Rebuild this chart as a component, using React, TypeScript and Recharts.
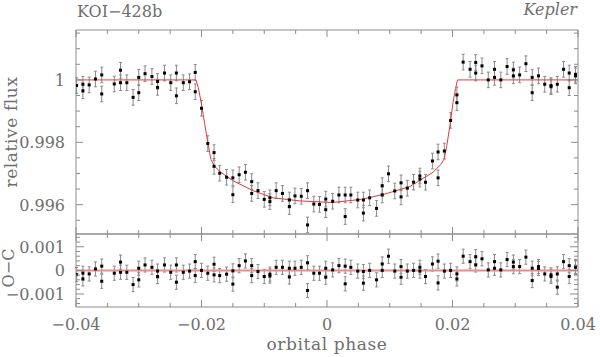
import React from 'react';
import { ScatterChart, Scatter, XAxis, YAxis, ErrorBar } from 'recharts';

// ---- data ----
const phase = [
  -0.0399, -0.0389, -0.0379, -0.0369, -0.0359,
  -0.0339, -0.0329, -0.0319, -0.0309, -0.03, -0.029, -0.0279, -0.027, -0.0259, -0.0249, -0.024, -0.0229, -0.0219, -0.021, -0.02,
  -0.019, -0.018, -0.0171, -0.016, -0.015, -0.014, -0.013, -0.012, -0.011, -0.01, -0.0091, -0.0081, -0.0071, -0.006, -0.0051, -0.0041, -0.0031, -0.0021, -0.0012, -0.0002,
  0.0009, 0.0019, 0.0029, 0.0038, 0.0049, 0.0058, 0.0068, 0.0079, 0.0088, 0.0098, 0.0108, 0.0118, 0.0128, 0.0138, 0.0148, 0.0157, 0.0168, 0.0177, 0.0187, 0.0197, 0.0207,
  0.0217, 0.0228, 0.0237, 0.0247, 0.0257, 0.0267, 0.0277, 0.0287, 0.0297, 0.0307, 0.0317, 0.0327, 0.0337, 0.0347, 0.0357, 0.0367, 0.0377, 0.0386, 0.0396,
];

const flux1 = [
  0.99982, 0.99986, 0.99984, 1.00003, 1.00016,
  0.99987, 1.00031, 0.99991, 0.99944, 1.00008, 1.0002, 1.00011, 0.99995, 1.00022, 0.99991, 1.00022, 0.99991, 0.99994, 1.00024, 0.99909,
  0.99796, 0.99767, 0.99701, 0.99688, 0.99686, 0.99696, 0.99704, 0.99674, 0.99645, 0.99617, 0.99622, 0.99645, 0.99636, 0.99615, 0.99628, 0.99627, 0.99645, 0.99602, 0.99601, 0.99618,
  0.99611, 0.99631, 0.99631, 0.99631, 0.99615, 0.99615, 0.99622, 0.99588, 0.99661, 0.99699, 0.99644, 0.9967, 0.99653, 0.99672, 0.99692, 0.99672, 0.9974, 0.99769, 0.99772, 0.9987, 0.99952,
  1.00057, 1.00034, 1.00056, 1.00045, 1.0, 1.00034, 1.0, 1.00043, 1.00032, 1.00016, 1.00052, 1.00008, 1.00013, 0.99986, 0.99982, 0.99986, 1.00034, 1.00022, 1.00018,
];

const flux2: (number | null)[] = [
  null, 0.99965, null, null, 0.99955,
  null, 0.99991, null, null, 0.99959, null, null, 0.99976, null, null, 0.99949, null, null, 0.99962, null,
  null, 0.99723, null, null, 0.99632, null, null, 0.99636, null, null, 0.9961, null, null, 0.99594, null, null, 0.99535, null, null, 0.99584,
  null, null, 0.99562, null, null, 0.99573, null, null, 0.99631, null, null, 0.99625, null, null, 0.99682, null, null, 0.99686, null, null, 0.99927,
  null, null, 1.00022, null, null, 1.00008, null, null, 1.00013, null, null, 0.99959, null, null, 0.99978, null, null, 0.99975, 1.00013,
];

const res1 = [
  -0.00018, -0.00012, -0.00015, 0.00006, 0.00018,
  -0.00012, 0.00035, -0.00008, -0.0006, 0.00009, 0.00023, 0.00013, -0.00003, 0.00023, -0.00008, 0.00023, -0.00008, -0.00003, 0.00037, 0.0,
  -0.00012, 0.00026, -0.00022, -0.00016, -0.00002, 0.0002, 0.0004, 0.0002, -0.00005, -0.00026, -0.00016, 0.00013, 0.00013, 0.00009, 0.00009, 0.00013, 0.00032, -0.00012, -0.00012, 0.00009,
  0.00002, 0.0002, 0.00018, 0.00013, -0.00003, -0.00005, 0.0, -0.0004, 0.00027, 0.0006, -0.00003, 0.00016, -0.00003, 0.0, 0.00013, -0.00026, 0.00027, 0.00039, -0.00003, 0.0, -0.00015,
  0.0006, 0.00037, 0.00058, 0.00049, 0.00002, 0.00037, 0.00002, 0.00046, 0.00035, 0.00016, 0.00056, 0.00009, 0.00016, -0.00015, -0.00019, -0.00015, 0.00037, 0.0002, 0.00017,
];

const res2: (number | null)[] = [
  null, -0.00036, null, null, -0.00046,
  null, -0.00008, null, null, -0.0004, null, null, -0.00026, null, null, -0.0005, null, null, -0.00022, null,
  null, -0.00019, null, null, -0.00058, null, null, -0.00022, null, null, -0.00024, null, null, -0.00028, null, null, -0.00085, null, null, -0.00029,
  null, null, -0.00057, null, null, -0.00054, null, null, 0.0, null, null, -0.00029, null, null, -0.00003, null, null, -0.00053, null, null, -0.00036,
  null, null, 0.00023, null, null, 0.00009, null, null, 0.00016, null, null, -0.00043, 0.00008, null, -0.00026, -0.00071, null, -0.00026, 0.00013,
];

const modelPhase = [-0.04, -0.0209, -0.0205, -0.02, -0.0195, -0.019, -0.0185, -0.018, -0.017, -0.015, -0.0118, -0.0086, -0.0043, 0.0008, 0.0055, 0.0092, 0.0132, 0.0169, 0.0181, 0.0187, 0.0191, 0.0196, 0.0201, 0.0205, 0.0208, 0.04];
const modelFlux = [1, 1, 0.99975, 0.99922, 0.9986, 0.998, 0.99745, 0.99725, 0.99705, 0.99677, 0.99645, 0.99622, 0.99612, 0.99607, 0.99617, 0.99634, 0.99658, 0.99704, 0.99728, 0.99747, 0.9979, 0.99855, 0.9993, 0.99973, 1, 1];

const resModelPhase = [-0.04, 0.04];
const resModelValue = [0, 0];

const fluxErr = 0.00025;
const resErr = 0.0003;

const xTicks = [-0.04, -0.035, -0.03, -0.025, -0.02, -0.015, -0.01, -0.005, 0, 0.005, 0.01, 0.015, 0.02, 0.025, 0.03, 0.035, 0.04];
const xMajor = [-0.04, -0.02, 0, 0.02, 0.04];
const yTicksTop = [0.9955, 0.996, 0.9965, 0.997, 0.9975, 0.998, 0.9985, 0.999, 0.9995, 1, 1.0005, 1.001, 1.0015];
const yMajorTop = [0.996, 0.998, 1];
const yTicksBot = [-0.0014, -0.0012, -0.001, -0.0008, -0.0006, -0.0004, -0.0002, 0, 0.0002, 0.0004, 0.0006, 0.0008, 0.001, 0.0012, 0.0014];
const yMajorBot = [-0.001, 0, 0.001];

// ---- styling ----
const AXIS = '#8c8c8c';
const TEXT = '#6e6e6e';
const ERR = '#8a8a8a';
const RED = '#e23b3b';
const RED_LIGHT = '#f08a8a';
const FONT = '"DejaVu Serif", serif';

function points(ph: number[], a: number[], b: (number | null)[], err: number) {
  const out: { x: number; y: number; err: number }[] = [];
  ph.forEach((x, i) => {
    out.push({ x, y: a[i], err });
    const v = b[i];
    if (v !== null && v !== undefined) out.push({ x, y: v, err });
  });
  return out;
}
function line(ph: number[], v: number[]) {
  return ph.map((x, i) => ({ x, y: v[i] }));
}

const fluxPts = points(phase, flux1, flux2, fluxErr);
const resPts = points(phase, res1, res2, resErr);
const modelPts = line(modelPhase, modelFlux);
const resModelPts = line(resModelPhase, resModelValue);

const near = (v: number, list: number[]) => list.some((m) => Math.abs(m - v) < 1e-9);
const fmt = (v: number) =>
  Math.abs(v) < 1e-12 ? '0' : (v < 0 ? '\u2212' : '') + String(+Math.abs(v).toFixed(6));

const xTick = (p: any, dir: number, labels: boolean) => {
  const { x, y, payload } = p;
  const v = payload.value;
  const major = near(v, xMajor);
  const len = major ? 7 : 4;
  return (
    <g>
      <line x1={x} x2={x} y1={y} y2={y + dir * len} stroke={AXIS} strokeWidth={1} />
      {labels && major ? (
        <text x={x} y={y + 23} textAnchor="middle" fontFamily={FONT} fontSize={16} fill={TEXT}>
          {fmt(v)}
        </text>
      ) : null}
    </g>
  );
};

const yTick = (p: any, dir: number, majors: number[], labels: boolean, majorLen: number) => {
  const { x, y, payload } = p;
  const v = payload.value;
  const major = near(v, majors);
  const len = major ? majorLen : 4;
  return (
    <g>
      <line x1={x} x2={x + dir * len} y1={y} y2={y} stroke={AXIS} strokeWidth={1} />
      {labels && major ? (
        <text x={x - 11} y={y + 6} textAnchor="end" fontFamily={FONT} fontSize={16} fill={TEXT}>
          {fmt(v)}
        </text>
      ) : null}
    </g>
  );
};

const Dot = (p: any) => <rect x={p.cx - 1.5} y={p.cy - 1.5} width={3} height={3} fill="#000" />;
const Empty = () => <g />;

const axisCommon = {
  type: 'number' as const,
  allowDataOverflow: true,
  interval: 0 as const,
  tickSize: 0,
  tickMargin: 0,
  tickLine: false,
  axisLine: { stroke: AXIS, strokeWidth: 1 },
};

export default function App() {
  return (
    <div style={{ position: 'fixed', left: 0, top: 0, width: 600, height: 357, background: '#fff' }}>
      <div style={{ position: 'absolute', left: 0, top: 0 }}>
        <ScatterChart width={600} height={240} margin={{ top: 0, right: 0, bottom: 0, left: 0 }}>
          <XAxis {...axisCommon} xAxisId="b" dataKey="x" domain={[-0.04, 0.04]} ticks={xTicks} orientation="bottom" height={6} tick={(p: any) => xTick(p, -1, false)} />
          <XAxis {...axisCommon} xAxisId="t" dataKey="x" domain={[-0.04, 0.04]} ticks={xTicks} orientation="top" height={30} tick={(p: any) => xTick(p, 1, false)} />
          <YAxis {...axisCommon} yAxisId="l" dataKey="y" domain={[0.99506, 1.0016]} ticks={yTicksTop} orientation="left" width={76} tick={(p: any) => yTick(p, 1, yMajorTop, true, 7)} />
          <YAxis {...axisCommon} yAxisId="r" dataKey="y" domain={[0.99506, 1.0016]} ticks={yTicksTop} orientation="right" width={22} tick={(p: any) => yTick(p, -1, yMajorTop, false, 7)} />
          <Scatter xAxisId="t" yAxisId="r" data={modelPts} line={{ stroke: RED, strokeWidth: 1 }} lineType="joint" shape={Empty} isAnimationActive={false} />
          <Scatter xAxisId="b" yAxisId="l" data={fluxPts} shape={Dot} isAnimationActive={false}>
            <ErrorBar dataKey="err" direction="y" width={1.5} stroke={ERR} strokeWidth={1} isAnimationActive={false} />
          </Scatter>
        </ScatterChart>
      </div>
      <div style={{ position: 'absolute', left: 0, top: 0 }}>
        <ScatterChart width={600} height={357} margin={{ top: 0, right: 0, bottom: 0, left: 0 }}>
          <XAxis {...axisCommon} xAxisId="b" dataKey="x" domain={[-0.04, 0.04]} ticks={xTicks} orientation="bottom" height={50} tick={(p: any) => xTick(p, -1, true)} />
          <XAxis {...axisCommon} xAxisId="t" dataKey="x" domain={[-0.04, 0.04]} ticks={xTicks} orientation="top" height={234} tick={(p: any) => xTick(p, 1, false)} />
          <YAxis {...axisCommon} yAxisId="l" dataKey="y" domain={[-0.00155, 0.00154]} ticks={yTicksBot} orientation="left" width={76} tick={(p: any) => yTick(p, 1, yMajorBot, true, 8)} />
          <YAxis {...axisCommon} yAxisId="r" dataKey="y" domain={[-0.00155, 0.00154]} ticks={yTicksBot} orientation="right" width={22} tick={(p: any) => yTick(p, -1, yMajorBot, false, 8)} />
          <Scatter xAxisId="t" yAxisId="r" data={resModelPts} line={{ stroke: RED_LIGHT, strokeWidth: 2 }} lineType="joint" shape={Empty} isAnimationActive={false} />
          <Scatter xAxisId="b" yAxisId="l" data={resPts} shape={Dot} isAnimationActive={false}>
            <ErrorBar dataKey="err" direction="y" width={1.5} stroke={ERR} strokeWidth={1} isAnimationActive={false} />
          </Scatter>
        </ScatterChart>
      </div>
      <svg width={600} height={357} style={{ position: 'absolute', left: 0, top: 0, pointerEvents: 'none' }}>
        <text x={77} y={17} fontFamily={FONT} fontSize={16} fill={TEXT}>KOI{'\u2212'}428b</text>
        <text x={577} y={15} textAnchor="end" fontFamily={FONT} fontStyle="italic" fontSize={16} fill={TEXT}>Kepler</text>
        <text x={327} y={350} textAnchor="middle" fontFamily={FONT} fontSize={17} letterSpacing={0.6} fill={TEXT}>orbital phase</text>
        <text x={17} y={132} textAnchor="middle" fontFamily={FONT} fontSize={17} letterSpacing={0.6} fill={TEXT} transform="rotate(-90 17 132)">relative flux</text>
        <text x={14} y={268} textAnchor="middle" fontFamily={FONT} fontSize={16} fill={TEXT} transform="rotate(-90 14 268)">O{'\u2212'}C</text>
      </svg>
    </div>
  );
}
